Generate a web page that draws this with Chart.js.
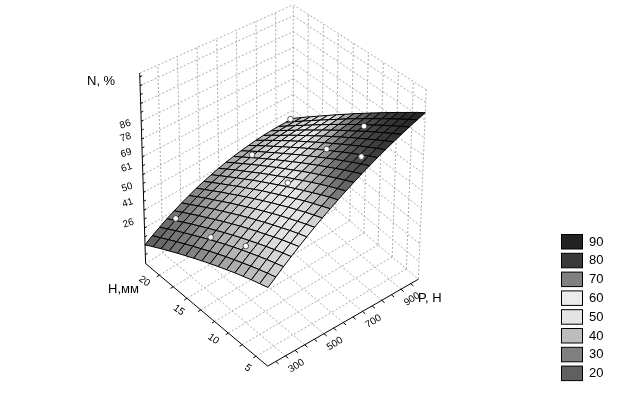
<!DOCTYPE html>
<html>
<head>
<meta charset="utf-8">
<style>
  html, body { margin: 0; padding: 0; background: #fff; }
</style>
<script src="https://cdn.jsdelivr.net/npm/chart.js@4/dist/chart.umd.min.js"></script>
</head>
<body>
<canvas id="surface-chart" width="625" height="409"></canvas>
<script>
// mesh of the fitted surface, rows run along H, columns along P
const pValues = [208, 247.1, 286.2, 325.3, 364.4, 403.5, 442.6, 481.7, 520.8, 559.9, 599, 638.1, 677.2, 716.3, 755.4, 794.5, 833.6, 872.7, 911.8, 950.9, 990];
const hValues = [4.3, 5.48, 6.66, 7.84, 9.02, 10.2, 11.38, 12.56, 13.74, 14.92, 16.1, 17.28, 18.46, 19.64, 20.82, 22];
const nValues = [
  [42.0, 44.8, 47.6, 50.3, 53.0, 55.6, 58.2, 60.7, 63.2, 65.6, 68.0, 70.3, 72.6, 74.8, 77.0, 79.1, 81.2, 83.2, 85.2, 87.1, 89.0],
  [41.0, 43.8, 46.5, 49.2, 51.8, 54.4, 56.9, 59.3, 61.7, 64.1, 66.4, 68.6, 70.8, 72.9, 75.0, 77.0, 79.0, 80.9, 82.7, 84.5, 86.3],
  [40.0, 42.7, 45.4, 48.0, 50.6, 53.1, 55.5, 57.9, 60.2, 62.5, 64.7, 66.8, 68.9, 70.9, 72.9, 74.8, 76.6, 78.4, 80.1, 81.8, 83.4],
  [38.8, 41.5, 44.1, 46.7, 49.2, 51.6, 54.0, 56.3, 58.6, 60.7, 62.9, 64.9, 66.9, 68.8, 70.7, 72.5, 74.2, 75.9, 77.5, 79.0, 80.5],
  [37.6, 40.2, 42.8, 45.3, 47.7, 50.1, 52.5, 54.7, 56.8, 58.9, 61.0, 62.9, 64.8, 66.7, 68.4, 70.1, 71.7, 73.3, 74.7, 76.1, 77.5],
  [36.2, 38.8, 41.4, 43.8, 46.2, 48.5, 50.8, 52.9, 55.0, 57.0, 59.0, 60.9, 62.7, 64.4, 66.0, 67.6, 69.1, 70.5, 71.9, 73.2, 74.4],
  [34.8, 37.4, 39.9, 42.3, 44.6, 46.8, 49.0, 51.1, 53.1, 55.1, 56.9, 58.7, 60.4, 62.0, 63.6, 65.0, 66.4, 67.7, 69.0, 70.1, 71.2],
  [33.3, 35.8, 38.3, 40.6, 42.9, 45.1, 47.2, 49.2, 51.1, 53.0, 54.8, 56.4, 58.1, 59.6, 61.0, 62.4, 63.6, 64.9, 66.0, 67.0, 67.9],
  [31.7, 34.2, 36.6, 38.9, 41.1, 43.2, 45.2, 47.2, 49.1, 50.8, 52.5, 54.1, 55.6, 57.1, 58.4, 59.6, 60.8, 61.9, 62.9, 63.8, 64.6],
  [30.0, 32.4, 34.8, 37.0, 39.2, 41.2, 43.2, 45.1, 46.9, 48.6, 50.2, 51.7, 53.1, 54.4, 55.7, 56.8, 57.8, 58.8, 59.7, 60.4, 61.1],
  [28.2, 30.6, 32.9, 35.1, 37.2, 39.2, 41.1, 42.9, 44.6, 46.3, 47.8, 49.2, 50.5, 51.7, 52.8, 53.9, 54.8, 55.6, 56.4, 57.0, 57.6],
  [26.4, 28.7, 30.9, 33.1, 35.1, 37.1, 38.9, 40.6, 42.3, 43.8, 45.2, 46.6, 47.8, 48.9, 49.9, 50.9, 51.7, 52.4, 53.0, 53.5, 53.9],
  [24.4, 26.7, 28.9, 31.0, 33.0, 34.9, 36.6, 38.3, 39.8, 41.3, 42.6, 43.9, 45.0, 46.0, 46.9, 47.8, 48.5, 49.0, 49.5, 49.9, 50.2],
  [22.4, 24.6, 26.8, 28.8, 30.7, 32.6, 34.3, 35.8, 37.3, 38.7, 40.0, 41.1, 42.1, 43.1, 43.9, 44.6, 45.1, 45.6, 46.0, 46.2, 46.4],
  [20.2, 22.4, 24.5, 26.5, 28.4, 30.1, 31.8, 33.3, 34.7, 36.0, 37.2, 38.2, 39.1, 40.0, 40.7, 41.3, 41.8, 42.1, 42.3, 42.5, 42.5],
  [18.0, 20.2, 22.2, 24.2, 25.9, 27.7, 29.2, 30.7, 32.0, 33.2, 34.3, 35.3, 36.1, 36.8, 37.4, 37.9, 38.3, 38.5, 38.6, 38.6, 38.5]
];

// measured points
const pointP = [300, 300, 300, 700, 700, 900, 900, 900, 700];
const pointH = [20, 15, 10, 20, 15, 20, 15, 10, 5];
const pointN = [31, 34.9, 43, 41.3, 41, 49, 47.6, 72.2, 78];

// axes
const pTicks = [300, 500, 700, 900];
const hTicks = [20, 15, 10, 5];
const nTickLabels = ['26', '41', '50', '61', '69', '78', '86'];
const nTickValues = [28.2, 38, 45.4, 54.8, 61.8, 69.3, 75.5];
const legendLevels = [90, 80, 70, 60, 50, 40, 30, 20];

const pMin = 208, pMax = 990, hMin = 4.3, hMax = 22, nMin = 9, nMax = 100;

// box corners on screen, the view has a little perspective so no plain affine
const floorBox = { front: [267, 370], right: [420, 281], left: [143, 265], back: [293, 172] };
const topBox = { front: [268, 148], right: [428, 87], left: [137, 70], back: [293, 0] };

function project(p, h, n) {
  const u = (p - pMin) / (pMax - pMin);
  const v = (h - hMin) / (hMax - hMin);
  const w = (n - nMin) / (nMax - nMin);
  const corner = (box, k) =>
    box.front[k] * (1 - u) * (1 - v) + box.right[k] * u * (1 - v) +
    box.left[k] * (1 - u) * v + box.back[k] * u * v;
  return {
    x: corner(floorBox, 0) * (1 - w) + corner(topBox, 0) * w,
    y: corner(floorBox, 1) * (1 - w) + corner(topBox, 1) * w
  };
}

// shade stops, the dark side comes in a bit early compared to the key
const shadeStops = [[10, 80], [20, 96], [30, 128], [40, 184], [50, 226], [57, 228], [62, 176], [66, 120], [71, 82], [79, 56], [90, 32]];
function shadeFor(n) {
  let g = shadeStops[shadeStops.length - 1][1];
  for (let k = 0; k < shadeStops.length - 1; k++) {
    const a = shadeStops[k], b = shadeStops[k + 1];
    if (n <= b[0]) {
      g = n <= a[0] ? a[1] : a[1] + (b[1] - a[1]) * (n - a[0]) / (b[0] - a[0]);
      break;
    }
  }
  g = Math.round(g);
  return 'rgb(' + g + ',' + g + ',' + g + ')';
}

const legendColors = ['#222222', '#3a3a3a', '#808080', '#ececec', '#e4e4e4', '#bcbcbc', '#808080', '#606060'];

// line helpers, a NaN point breaks the line
const gap = { x: NaN, y: NaN };
const gridLines = [];
const axisLines = [];
function addLine(list, a, b) {
  list.push(project(a[0], a[1], a[2]), project(b[0], b[1], b[2]), gap);
}

const gridP = [300, 400, 500, 600, 700, 800, 900];
const gridH = [6, 8, 10, 12, 14, 16, 18, 20];
const gridN = [17.5, 26, 34.5, 43, 51.5, 60, 68.5, 77, 85.5, 94];

gridP.forEach(p => {
  addLine(gridLines, [p, hMin, nMin], [p, hMax, nMin]);
  addLine(gridLines, [p, hMax, nMin], [p, hMax, nMax]);
});
gridH.forEach(h => {
  addLine(gridLines, [pMin, h, nMin], [pMax, h, nMin]);
  addLine(gridLines, [pMax, h, nMin], [pMax, h, nMax]);
});
gridN.forEach(n => {
  addLine(gridLines, [pMin, hMax, n], [pMax, hMax, n]);
  addLine(gridLines, [pMax, hMax, n], [pMax, hMin, n]);
});
addLine(gridLines, [pMin, hMax, nMax], [pMax, hMax, nMax]);
addLine(gridLines, [pMax, hMax, nMax], [pMax, hMin, nMax]);
addLine(gridLines, [pMax, hMax, nMin], [pMax, hMax, nMax]);
addLine(gridLines, [pMax, hMin, nMin], [pMax, hMin, nMax]);
addLine(gridLines, [pMax, hMax, nMin], [pMax, hMin, nMin]);
addLine(gridLines, [pMax, hMax, nMin], [pMin, hMax, nMin]);

addLine(axisLines, [pMin, hMax, nMin], [pMin, hMin, nMin]);
addLine(axisLines, [pMin, hMin, nMin], [pMax, hMin, nMin]);
addLine(axisLines, [pMin, hMax, nMin], [pMin, hMax, nMax]);
for (let h = 6; h <= 20; h += 2) addLine(axisLines, [pMin, h, nMin], [pMin - 14, h, nMin]);
for (let p = 250; p <= 950; p += 50) addLine(axisLines, [p, hMin, nMin], [p, hMin - 0.4, nMin]);
for (let n = 13.25; n < nMax; n += 4.25) addLine(axisLines, [pMin, hMax, n], [pMin + 12, hMax, n]);

const datasets = [];

datasets.push({
  data: gridLines, showLine: true, pointRadius: 0, fill: false, spanGaps: false,
  borderColor: '#ababab', borderWidth: 1, borderDash: [2, 2]
});
datasets.push({
  data: axisLines, showLine: true, pointRadius: 0, fill: false, spanGaps: false,
  borderColor: '#000000', borderWidth: 1
});

// back to front so the nearer cells paint over the far ones
for (let j = hValues.length - 2; j >= 0; j--) {
  for (let i = pValues.length - 2; i >= 0; i--) {
    const cell = [
      project(pValues[i], hValues[j], nValues[j][i]),
      project(pValues[i + 1], hValues[j], nValues[j][i + 1]),
      project(pValues[i + 1], hValues[j + 1], nValues[j + 1][i + 1]),
      project(pValues[i], hValues[j + 1], nValues[j + 1][i])
    ];
    cell.push(cell[0]);
    const mean = (nValues[j][i] + nValues[j][i + 1] + nValues[j + 1][i] + nValues[j + 1][i + 1]) / 4;
    datasets.push({
      data: cell, showLine: true, pointRadius: 0, tension: 0,
      fill: 'shape', backgroundColor: shadeFor(mean),
      borderColor: '#000000', borderWidth: 1
    });
  }
}

datasets.push({
  data: pointP.map((p, k) => project(p, pointH[k], pointN[k])),
  showLine: false, pointRadius: 2.8, pointBackgroundColor: '#ffffff',
  pointBorderColor: '#303030', pointBorderWidth: 0.8
});

// chart.js paints the first dataset last
datasets.reverse();

function rotatedText(ctx, text, x, y, angle) {
  ctx.save();
  ctx.translate(x, y);
  ctx.rotate(angle * Math.PI / 180);
  ctx.fillText(text, 0, 0);
  ctx.restore();
}

const axisText = {
  id: 'axisText',
  afterDraw(chart) {
    const ctx = chart.ctx, sx = chart.scales.x, sy = chart.scales.y;
    const at = q => ({ x: sx.getPixelForValue(q.x), y: sy.getPixelForValue(q.y) });
    ctx.save();
    ctx.fillStyle = '#000';
    ctx.textAlign = 'center';
    ctx.textBaseline = 'middle';

    ctx.font = '10px "Liberation Sans"';
    pTicks.forEach(p => {
      const q = at(project(p, hMin, nMin));
      rotatedText(ctx, String(p), q.x + 11, q.y + 10, -32);
    });
    hTicks.forEach(h => {
      const q = at(project(pMin, h, nMin));
      rotatedText(ctx, String(h), q.x - 15, q.y + 6, 35);
    });
    nTickLabels.forEach((t, k) => {
      const q = at(project(pMin, hMax, nTickValues[k]));
      rotatedText(ctx, t, q.x - 16, q.y, -18);
    });

    ctx.font = '13px "Liberation Sans"';
    ctx.textAlign = 'left';
    ctx.fillText('N, %', 87, 81);
    ctx.fillText('H,мм', 108, 289);
    ctx.fillText('P, H', 418, 298);

    legendLevels.forEach((level, k) => {
      const top = 234.5 + k * 18.8;
      ctx.fillStyle = legendColors[k];
      ctx.fillRect(561.5, top, 21, 14.5);
      ctx.strokeStyle = '#000';
      ctx.lineWidth = 1;
      ctx.strokeRect(561.5, top, 21, 14.5);
      ctx.fillStyle = '#000';
      ctx.fillText(String(level), 589, top + 7.5);
    });
    ctx.restore();
  }
};

new Chart(document.getElementById('surface-chart'), {
  type: 'scatter',
  data: { datasets: datasets },
  plugins: [axisText],
  options: {
    responsive: false,
    animation: false,
    layout: { padding: 0 },
    plugins: { legend: { display: false }, tooltip: { enabled: false } },
    scales: {
      x: { type: 'linear', min: 0, max: 625, display: false },
      y: { type: 'linear', min: 0, max: 409, reverse: true, display: false }
    }
  }
});
</script>
</body>
</html>
